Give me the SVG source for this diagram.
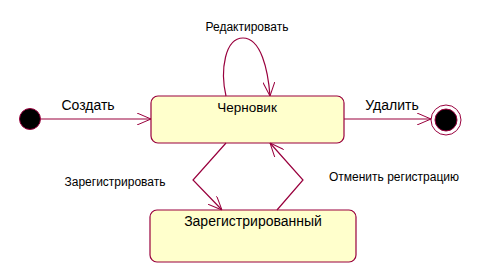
<svg xmlns="http://www.w3.org/2000/svg" width="481" height="273" viewBox="0 0 481 273">
<defs>
<marker id="open" viewBox="0 0 14 12" refX="14" refY="6" markerWidth="14" markerHeight="12" markerUnits="userSpaceOnUse" orient="auto">
<path d="M0,0 L14,6 L0,12" fill="none" stroke="#99003d" stroke-width="1"/>
</marker>
<style>
.st{fill:#ffffcc;stroke:#99003d;stroke-width:1.2}
.cn{fill:none;stroke:#99003d;stroke-width:1.2;marker-end:url(#open)}
.t{font-family:"Liberation Sans",Arial,sans-serif;fill:#000}
</style>
</defs>
<rect width="481" height="273" fill="#fff"/>
<g id="initial"><circle cx="30" cy="119" r="10.5" fill="#000" stroke="#99003d" stroke-width="1"/></g>
<g id="final"><circle cx="446" cy="120" r="15" fill="#fff" stroke="#99003d" stroke-width="1"/><circle cx="446" cy="120" r="11" fill="#000" stroke="#99003d" stroke-width="1"/></g>
<g id="draft"><rect class="st" x="151" y="96" width="193" height="47" rx="7"/><text class="t" x="247" y="112" font-size="13.5" text-anchor="middle">Черновик</text></g>
<g id="registered"><rect class="st" x="150" y="210" width="206" height="52" rx="7"/><text class="t" x="253" y="226" font-size="14" text-anchor="middle">Зарегистрированный</text></g>
<g id="connectors">
<path class="cn" d="M41,119 L151,119"/>
<path class="cn" d="M344,119 L431,119"/>
<path class="cn" d="M226,96 C220,70 225,38 243,38 C261,38 268,70 270,96"/>
<path class="cn" d="M226,143 L193,180 L222,210"/>
<path class="cn" d="M277,210 L303,180 L270,143"/>
<text class="t" x="88" y="110" font-size="14" text-anchor="middle">Создать</text>
<text class="t" x="392" y="110" font-size="14" text-anchor="middle">Удалить</text>
<text class="t" x="247" y="31" font-size="12" text-anchor="middle">Редактировать</text>
<text class="t" x="115" y="186" font-size="12" text-anchor="middle">Зарегистрировать</text>
<text class="t" x="394" y="181" font-size="12" text-anchor="middle">Отменить регистрацию</text>
</g>
</svg>
